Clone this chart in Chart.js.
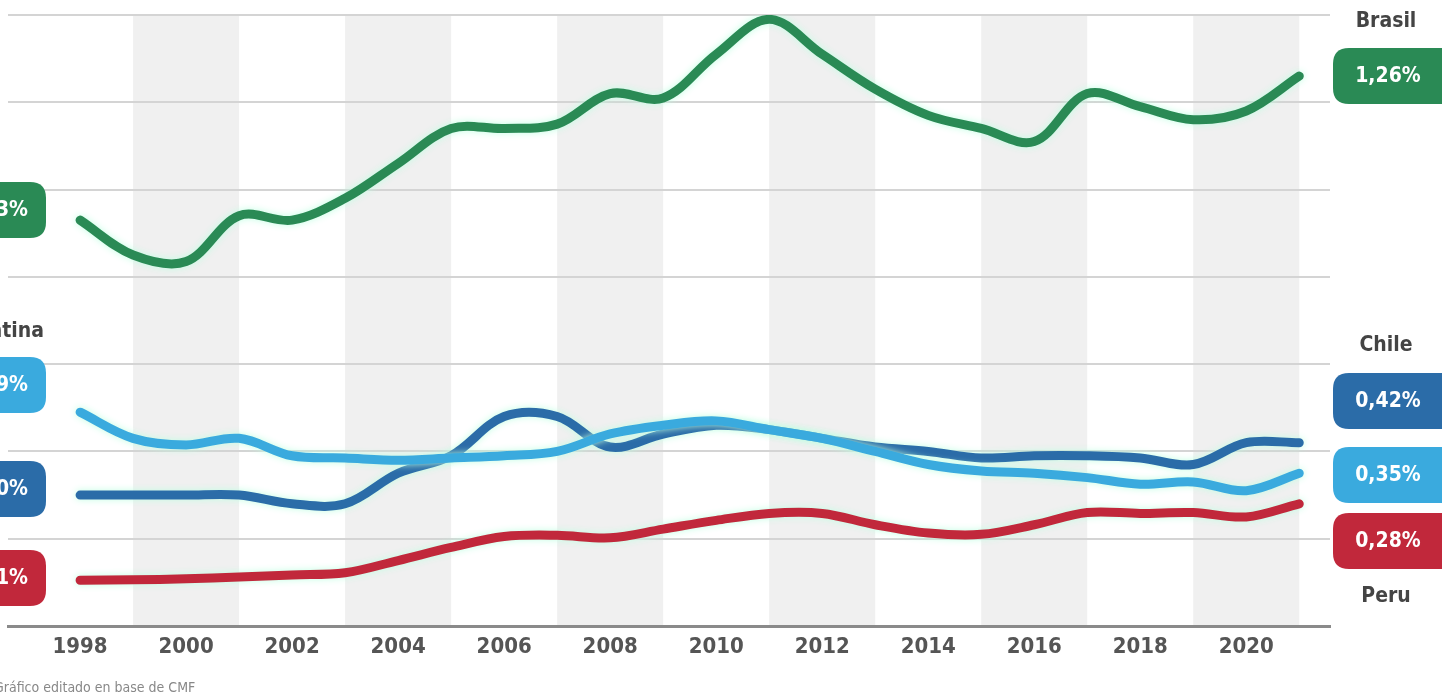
<!DOCTYPE html>
<html>
<head>
<meta charset="utf-8">
<script src="https://cdn.jsdelivr.net/npm/chart.js@4"></script>
<style>
  html, body { margin: 0; padding: 0; background: #fff; overflow: hidden; }
  #wrap { position: relative; width: 1442px; height: 698px; }
</style>
</head>
<body>
<div id="wrap"><canvas id="chart" width="1442" height="698"></canvas></div>
<script>
const years = [1998,1999,2000,2001,2002,2003,2004,2005,2006,2007,2008,2009,2010,2011,2012,2013,2014,2015,2016,2017,2018,2019,2020,2021];
const brasil = [0.93,0.85,0.835,0.94,0.93,0.98,1.06,1.14,1.14,1.15,1.22,1.21,1.31,1.39,1.31,1.23,1.17,1.14,1.11,1.22,1.19,1.16,1.18,1.26];
const chile = [0.30,0.30,0.30,0.30,0.28,0.28,0.35,0.39,0.48,0.48,0.41,0.44,0.46,0.45,0.43,0.41,0.40,0.385,0.39,0.39,0.385,0.37,0.42,0.42];
const argentina = [0.49,0.43,0.415,0.43,0.39,0.385,0.38,0.385,0.39,0.40,0.44,0.46,0.47,0.45,0.43,0.40,0.37,0.355,0.35,0.34,0.325,0.33,0.31,0.35];
const peru = [0.105,0.106,0.108,0.112,0.117,0.122,0.15,0.18,0.205,0.208,0.202,0.222,0.242,0.258,0.258,0.232,0.213,0.21,0.232,0.26,0.258,0.26,0.25,0.28];
const tickYears = [1998,2000,2002,2004,2006,2008,2010,2012,2014,2016,2018,2020];
const bandStarts = [1999,2003,2007,2011,2015,2019];
const endLabels = ['1,26%','0,42%','0,35%','0,28%'];
const startLabels = ['0,93%','0,49%','0,30%','0,11%'];

const GREEN = '#2a8a55', DBLUE = '#2b6ca8', LBLUE = '#3aaade', RED = '#c1283b';
const NARROW = '"Liberation Sans Narrow", "DejaVu Sans Condensed", "Liberation Sans", sans-serif';

function rrect(ctx, x, y, w, h, r) {
  ctx.beginPath();
  ctx.moveTo(x + r, y);
  ctx.lineTo(x + w - r, y);
  ctx.quadraticCurveTo(x + w, y, x + w, y + r);
  ctx.lineTo(x + w, y + h - r);
  ctx.quadraticCurveTo(x + w, y + h, x + w - r, y + h);
  ctx.lineTo(x + r, y + h);
  ctx.quadraticCurveTo(x, y + h, x, y + h - r);
  ctx.lineTo(x, y + r);
  ctx.quadraticCurveTo(x, y, x + r, y);
  ctx.closePath();
}

const bands = {
  id: 'bands',
  beforeDraw(chart) {
    const {ctx, chartArea, scales: {x}} = chart;
    ctx.save();
    ctx.fillStyle = '#f0f0f0';
    bandStarts.forEach(s => {
      const a = x.getPixelForValue(s), b = x.getPixelForValue(s + 2);
      ctx.fillRect(a, chartArea.top, b - a, chartArea.bottom - chartArea.top);
    });
    ctx.restore();
  }
};

const glow = {
  id: 'glow',
  beforeDatasetDraw(chart) {
    const ctx = chart.ctx;
    ctx.save();
    ctx.shadowColor = 'rgba(190,255,225,0.95)';
    ctx.shadowBlur = 7;
  },
  afterDatasetDraw(chart) {
    chart.ctx.restore();
  }
};

const badges = {
  id: 'badges',
  afterDraw(chart) {
    const ctx = chart.ctx;
    const cols = [GREEN, DBLUE, LBLUE, RED];
    const rightY = [76, 401, 475, 541];
    const leftY = [210, 385, 489, 578];
    const leftCols = [GREEN, LBLUE, DBLUE, RED];
    ctx.save();
    ctx.textBaseline = 'middle';
    for (let i = 0; i < 4; i++) {
      ctx.fillStyle = cols[i];
      rrect(ctx, 1333, rightY[i] - 28, 130, 56, 16);
      ctx.fill();
      ctx.fillStyle = '#fff';
      ctx.font = 'bold 21px ' + NARROW;
      ctx.textAlign = 'center';
      ctx.fillText(endLabels[i], 1388, rightY[i] + 1);
    }
    for (let i = 0; i < 4; i++) {
      ctx.fillStyle = leftCols[i];
      rrect(ctx, -80, leftY[i] - 28, 126, 56, 16);
      ctx.fill();
      ctx.fillStyle = '#fff';
      ctx.font = 'bold 21px ' + NARROW;
      ctx.textAlign = 'right';
      ctx.fillText(startLabels[i], 28, leftY[i] + 1);
    }
    ctx.fillStyle = '#444';
    ctx.font = 'bold 21px ' + NARROW;
    ctx.textAlign = 'center';
    ctx.fillText('Brasil', 1386, 22);
    ctx.fillText('Chile', 1386, 346);
    ctx.fillText('Peru', 1386, 597);
    ctx.textAlign = 'right';
    ctx.fillText('Argentina', 44, 332);
    ctx.fillStyle = '#888';
    ctx.font = '14px ' + NARROW;
    ctx.textAlign = 'left';
    ctx.fillText('Gráfico editado en base de CMF', -6, 688);
    ctx.restore();
  }
};

const ds = (label, data, color, order) => ({
  label, data: years.map((y, i) => ({x: y, y: data[i]})),
  borderColor: color, backgroundColor: color, borderWidth: 9,
  pointRadius: 0, tension: 0.35,
  borderCapStyle: 'round', borderJoinStyle: 'round', fill: false, order
});

new Chart(document.getElementById('chart'), {
  type: 'line',
  data: {
    datasets: [
      ds('Brasil', brasil, GREEN, 0),
      ds('Argentina', argentina, LBLUE, 1),
      ds('Chile', chile, DBLUE, 2),
      ds('Peru', peru, RED, 3)
    ]
  },
  options: {
    responsive: false,
    animation: false,
    layout: { padding: { left: 8, right: 112, top: 15, bottom: 0 } },
    plugins: { legend: { display: false }, tooltip: { enabled: false } },
    scales: {
      x: {
        type: 'linear', min: 1996.64, max: 2021.58,
        afterBuildTicks: s => { s.ticks = tickYears.map(v => ({value: v})); },
        afterFit: s => { s.height = 72; },
        grid: { display: false, drawTicks: false },
        border: { display: true, color: '#8a8a8a', width: 3 },
        ticks: {
          padding: 8, color: '#555', autoSkip: false, maxRotation: 0,
          font: { family: NARROW, size: 22, weight: 'bold' },
          callback: v => String(v)
        }
      },
      y: {
        min: 0, max: 1.4,
        afterFit: s => { s.width = 0; },
        ticks: { display: false, stepSize: 0.2 },
        grid: { color: '#d4d4d4', lineWidth: 2, drawTicks: false },
        border: { display: false }
      }
    }
  },
  plugins: [bands, glow, badges]
});
</script>
</body>
</html>
